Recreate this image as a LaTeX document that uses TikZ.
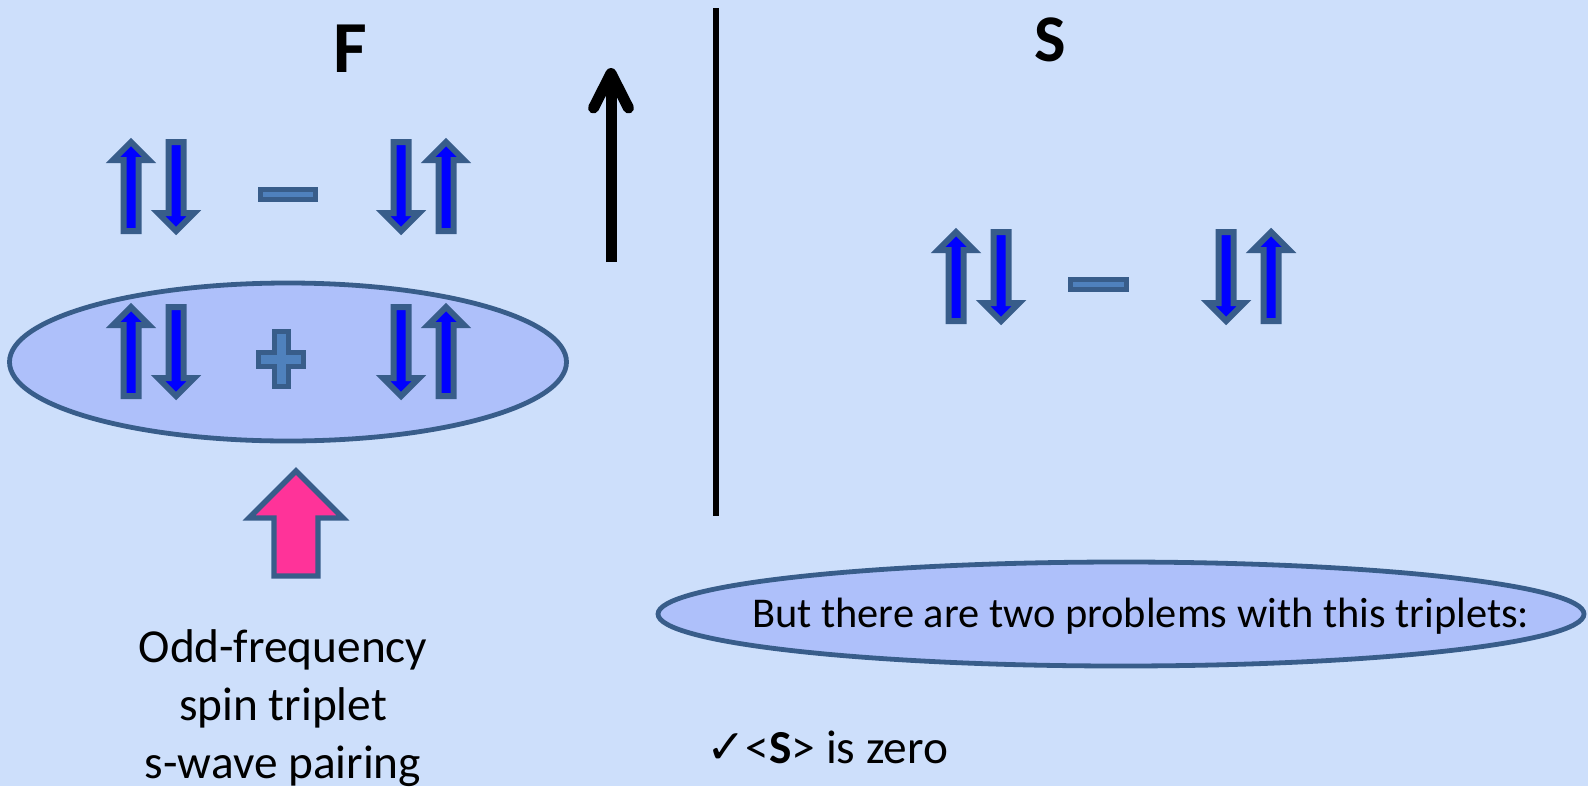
\documentclass[tikz,border=0pt]{standalone}
\usepackage{fontspec}
\setmainfont{Carlito}
\newfontfamily\symfont{DejaVu Sans}
\usepackage{tikz}
\usetikzlibrary{shapes.geometric}
\usepackage{xcolor}
\definecolor{slidebg}{HTML}{CDDFFB}
\definecolor{ovalfill}{HTML}{AEC0FA}
\definecolor{edgeblue}{HTML}{385D8A}
\definecolor{spinblue}{HTML}{0000FF}
\definecolor{signblue}{HTML}{4F81BD}
\definecolor{hotpink}{HTML}{FF3399}

\begin{document}
\begin{tikzpicture}[
  x=0.75pt, y=-0.75pt,
  spinbody/.style={
    draw=edgeblue,
    fill=spinblue,
    line width=4.5pt
  },
  signbody/.style={
    draw=edgeblue,
    fill=signblue,
    line width=3.75pt
  },
  oval/.style={
    ellipse,
    draw=edgeblue,
    fill=ovalfill,
    line width=3.6pt,
    inner sep=0pt
  },
  bigletter/.style={
    font=\fontsize{55}{66}\selectfont\bfseries,
    inner sep=0pt,
    anchor=base
  },
  bodytext/.style={
    font=\fontsize{35.5}{43.5}\selectfont,
    inner sep=0pt
  },
  spin/.pic={
    \draw[spinbody] (-7.5,44.5) -- (-7.5,-26.5) -- (-18,-26.5) -- (0,-44.5)
      -- (18,-26.5) -- (7.5,-26.5) -- (7.5,44.5) -- cycle;
  }
]

  % Slide background
  \fill[slidebg] (0,0) rectangle (1588,786);
  \useasboundingbox (0,0) rectangle (1588,786);

  % Panel titles
  \node[bigletter] (labelF) at (350,72) {F};
  \node[bigletter, font=\fontsize{50}{60}\selectfont\bfseries] (labelS) at (1050,61) {S};

  % Divider and magnetisation arrow
  \draw[line width=4.5pt] (716,8) -- (716,516);
  \draw[line width=8.25pt] (611,262) -- (611,76);
  \draw[line width=8.25pt, line cap=round, line join=round] (593.5,108) -- (611,73.5) -- (628.5,108);

  % F: singlet row
  \pic at (131,186.5) {spin};
  \pic[rotate=180] at (176,186.5) {spin};
  \draw[signbody] (260.5,189.5) rectangle (315.5,199.5);
  \pic[rotate=180] at (401,186.5) {spin};
  \pic at (446,186.5) {spin};

  % F: triplet row inside the oval
  \node[oval, minimum width=417.75pt, minimum height=118.5pt] (tripletoval) at (288,362) {};
  \pic at (131,351.5) {spin};
  \pic[rotate=180] at (176,351.5) {spin};
  \draw[signbody, shift={(281,359)}] (-7,-27.5) -- (7,-27.5) -- (7,-7) -- (22.5,-7) -- (22.5,7)
    -- (7,7) -- (7,27.5) -- (-7,27.5) -- (-7,7) -- (-22.5,7) -- (-22.5,-7) -- (-7,-7) -- cycle;
  \pic[rotate=180] at (401,351.5) {spin};
  \pic at (446,351.5) {spin};

  % Pink pointer and caption
  \draw[draw=edgeblue, fill=hotpink, line width=4pt] (274,576) -- (274,518) -- (249,518) -- (296,471)
    -- (343,518) -- (318,518) -- (318,576) -- cycle;
  \node[bodytext, align=center] (pairing) at (283,708) {Odd-frequency\\spin triplet\\s-wave pairing};

  % S: singlet row
  \pic at (956,276.5) {spin};
  \pic[rotate=180] at (1001,276.5) {spin};
  \draw[signbody] (1070.5,279.5) rectangle (1126.5,289.5);
  \pic[rotate=180] at (1226,276.5) {spin};
  \pic at (1271,276.5) {spin};

  % Remarks
  \node[oval, minimum width=694.5pt, minimum height=78pt] (problemoval) at (1121,614) {};
  \node[bodytext, font=\fontsize{31.8}{40}\selectfont, anchor=base west] (problems) at (752,627) {But there are two problems with this triplets:};
  \node[bodytext, anchor=base west] (zero) at (706,763) {{\symfont ✓}<\textbf{S}> is zero};

\end{tikzpicture}
\end{document}
